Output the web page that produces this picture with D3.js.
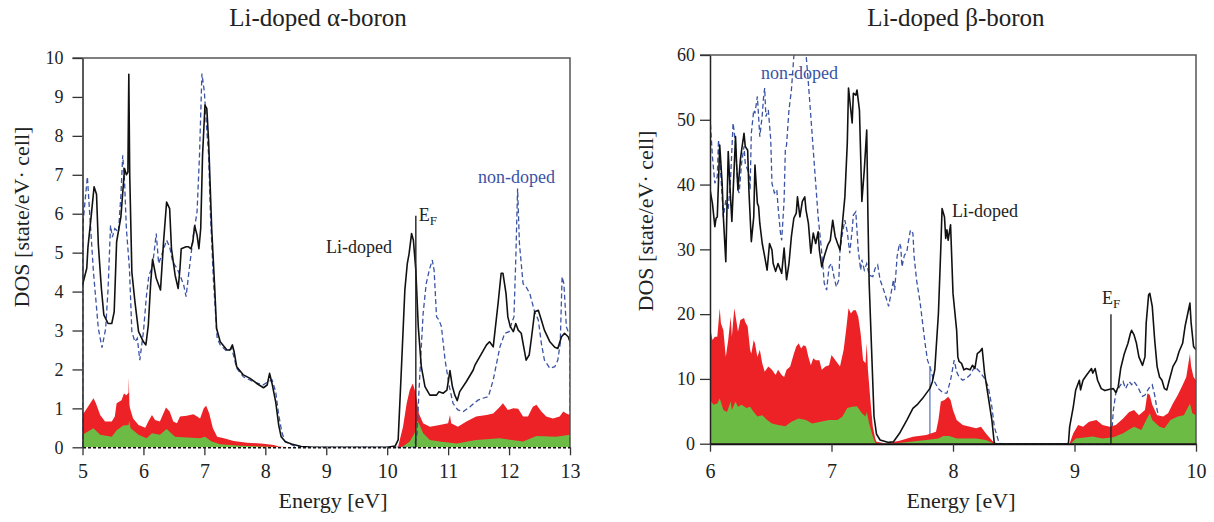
<!DOCTYPE html>
<html>
<head>
<meta charset="utf-8">
<script src="https://cdn.jsdelivr.net/npm/d3@7"></script>
<style>
  body { margin: 0; background: #fff; }
  svg { display: block; }
  text { font-family: "Liberation Serif", "Times New Roman", serif; fill: #222; }
</style>
</head>
<body>
<svg id="chart" width="1214" height="522"></svg>
<script>
// ---- Li-doped alpha-boron: [energy eV, DOS state/eV·cell] ----
const alphaLiDoped = [[5.00,4.17],[5.07,4.6],[5.09,5.15],[5.14,5.9],[5.19,6.69],[5.23,6.5],[5.26,5.2],[5.31,4.08],[5.35,3.4],[5.42,3.18],[5.48,3.18],[5.52,3.48],[5.56,5.28],[5.63,5.92],[5.69,7.16],[5.72,7.0],[5.745,7.07],[5.76,9.58],[5.775,7.0],[5.81,4.5],[5.86,3.74],[5.92,2.97],[6.0,2.71],[6.04,2.63],[6.08,3.14],[6.12,4.25],[6.15,4.83],[6.21,4.34],[6.28,4.04],[6.33,5.28],[6.38,6.3],[6.43,6.13],[6.46,5.1],[6.52,4.42],[6.57,4.08],[6.60,4.6],[6.62,5.1],[6.70,5.15],[6.74,5.15],[6.78,5.1],[6.81,5.28],[6.84,5.69],[6.88,5.45],[6.91,5.1],[6.94,5.62],[6.97,7.5],[7.01,8.79],[7.04,8.7],[7.07,7.85],[7.12,5.62],[7.17,4.08],[7.20,3.05],[7.26,2.71],[7.37,2.5],[7.42,2.5],[7.46,2.63],[7.49,2.44],[7.53,2.07],[7.64,1.86],[7.75,1.77],[7.86,1.64],[7.97,1.53],[8.03,1.6],[8.07,1.9],[8.11,1.64],[8.17,1.17],[8.22,0.57],[8.26,0.27],[8.33,0.14],[8.43,0.085],[8.59,0.02],[8.8,0.0],[10.0,0.0],[10.13,0.03],[10.18,0.19],[10.23,1.9],[10.29,4.04],[10.33,4.72],[10.36,4.98],[10.40,5.49],[10.43,5.32],[10.47,4.55],[10.51,3.1],[10.56,2.07],[10.62,1.56],[10.70,1.34],[10.81,1.34],[10.85,1.43],[10.92,1.39],[10.98,1.47],[11.03,1.97],[11.07,1.56],[11.11,1.34],[11.15,1.2],[11.19,1.43],[11.30,1.69],[11.41,1.98],[11.44,2.11],[11.52,2.33],[11.63,2.63],[11.68,2.71],[11.74,2.58],[11.82,3.7],[11.87,4.47],[11.90,4.47],[11.95,3.95],[11.98,3.35],[12.02,3.1],[12.07,2.97],[12.11,3.18],[12.15,3.01],[12.20,2.93],[12.24,2.58],[12.28,2.24],[12.33,2.37],[12.37,2.84],[12.42,3.48],[12.48,3.52],[12.53,3.27],[12.58,3.01],[12.67,2.71],[12.75,2.57],[12.80,2.54],[12.86,2.84],[12.91,2.93],[12.97,2.84],[13.0,2.71]];

const alphaNonDoped = [[5.0,0],[5.002,5.3],[5.01,5.8],[5.08,6.95],[5.12,5.96],[5.18,4.5],[5.26,3.05],[5.32,2.56],[5.38,3.05],[5.42,4.08],[5.46,5.7],[5.49,5.4],[5.53,5.62],[5.59,5.53],[5.63,6.47],[5.66,7.5],[5.69,6.82],[5.72,5.62],[5.77,4.6],[5.81,2.97],[5.86,2.71],[5.90,2.8],[5.94,2.24],[6.0,2.97],[6.05,3.9],[6.09,4.42],[6.14,4.6],[6.17,4.94],[6.21,5.49],[6.25,4.72],[6.30,4.94],[6.38,5.32],[6.43,5.15],[6.48,4.76],[6.55,4.6],[6.60,4.42],[6.66,4.17],[6.70,3.87],[6.74,4.42],[6.78,4.94],[6.82,5.45],[6.88,6.05],[6.92,7.5],[6.96,9.6],[7.0,9.13],[7.03,8.36],[7.07,7.5],[7.10,5.96],[7.15,4.25],[7.21,2.8],[7.26,2.63],[7.37,2.46],[7.45,2.54],[7.53,2.03],[7.64,1.81],[7.81,1.68],[7.96,1.6],[8.04,1.68],[8.11,1.73],[8.17,1.43],[8.22,0.83],[8.27,0.4],[8.32,0.15],[8.48,0.03],[8.7,0],[10.44,0],[10.45,0.03],[10.49,0.36],[10.52,1.39],[10.56,2.58],[10.59,3.44],[10.64,4.2],[10.69,4.55],[10.74,4.81],[10.77,4.55],[10.81,3.35],[10.85,3.27],[10.89,3.1],[10.95,2.24],[11.02,1.56],[11.08,1.13],[11.16,0.96],[11.25,0.92],[11.36,1.04],[11.44,1.15],[11.49,1.21],[11.57,1.26],[11.66,1.3],[11.74,1.73],[11.85,2.58],[11.93,2.93],[12.0,2.97],[12.04,3.18],[12.08,3.35],[12.11,4.81],[12.14,6.65],[12.17,5.24],[12.23,4.2],[12.28,4.12],[12.34,3.95],[12.42,3.48],[12.48,3.27],[12.53,2.67],[12.58,2.24],[12.67,2.03],[12.75,2.07],[12.80,2.24],[12.84,2.67],[12.87,4.38],[12.90,4.2],[12.94,3.1],[12.98,2.93],[12.998,2.9],[13.0,0]];

const alphaPdosTotal = [[5.0,0.83],[5.09,1.04],[5.18,1.26],[5.22,1.13],[5.29,0.83],[5.37,0.66],[5.48,0.66],[5.53,0.79],[5.56,1.13],[5.64,1.21],[5.68,1.38],[5.72,1.34],[5.755,1.4],[5.76,1.79],[5.77,1.1],[5.78,1.0],[5.83,0.74],[5.92,0.57],[6.03,0.5],[6.08,0.66],[6.14,0.83],[6.19,0.7],[6.27,0.66],[6.37,1.02],[6.43,0.92],[6.49,0.66],[6.55,0.62],[6.60,0.79],[6.71,0.81],[6.82,0.85],[6.88,0.79],[6.93,0.74],[6.99,1.0],[7.03,1.07],[7.08,0.87],[7.14,0.49],[7.21,0.27],[7.32,0.23],[7.48,0.16],[7.70,0.12],[7.97,0.09],[8.14,0.06],[8.22,0.02],[8.4,0],[10.15,0],[10.18,0.02],[10.26,0.53],[10.32,1.13],[10.37,1.47],[10.42,1.64],[10.47,1.39],[10.52,0.87],[10.59,0.62],[10.70,0.53],[10.86,0.57],[11.0,0.62],[11.03,0.83],[11.05,0.62],[11.16,0.53],[11.30,0.66],[11.46,0.79],[11.63,0.83],[11.74,0.87],[11.85,1.04],[11.90,1.13],[11.98,0.96],[12.07,1.0],[12.15,0.99],[12.23,0.79],[12.31,0.79],[12.39,1.04],[12.45,1.09],[12.53,0.92],[12.61,0.79],[12.72,0.74],[12.83,0.79],[12.89,0.92],[12.94,0.87],[13.0,0.83]];

const alphaPdosPart = [[5.0,0.32],[5.18,0.49],[5.29,0.32],[5.48,0.27],[5.56,0.44],[5.67,0.56],[5.755,0.57],[5.765,0.68],[5.79,0.49],[5.92,0.32],[6.05,0.23],[6.14,0.36],[6.27,0.32],[6.38,0.47],[6.52,0.27],[6.71,0.25],[6.93,0.23],[7.01,0.27],[7.12,0.15],[7.26,0.08],[7.59,0.04],[8.2,0.01],[8.3,0],[10.22,0],[10.26,0.03],[10.37,0.15],[10.45,0.36],[10.49,0.68],[10.52,0.62],[10.59,0.36],[10.70,0.19],[10.86,0.15],[11.14,0.1],[11.46,0.19],[11.85,0.23],[12.23,0.15],[12.45,0.29],[12.77,0.27],[13.0,0.32]];

const alphaFermi = 10.47;
const alphaXTicks = [5, 6, 7, 8, 9, 10, 11, 12, 13];
const alphaYTicks = [0, 1, 2, 3, 4, 5, 6, 7, 8, 9, 10];

// ---- Li-doped beta-boron ----
const betaLiDoped = [[6.0,39.2],[6.02,37.1],[6.04,33.5],[6.05,34.8],[6.06,35.0],[6.08,46.1],[6.10,40.2],[6.11,35.0],[6.13,28.1],[6.15,45.1],[6.17,37.6],[6.18,34.3],[6.21,47.4],[6.22,42.8],[6.23,39.2],[6.25,43.8],[6.26,45.3],[6.28,47.9],[6.29,45.9],[6.31,45.3],[6.32,39.2],[6.34,31.2],[6.36,35.0],[6.37,43.0],[6.39,37.1],[6.40,36.6],[6.41,34.0],[6.43,30.9],[6.45,28.9],[6.47,26.8],[6.49,30.9],[6.51,29.9],[6.52,27.8],[6.54,26.6],[6.56,27.8],[6.59,26.3],[6.61,30.2],[6.63,25.3],[6.65,27.8],[6.67,32.0],[6.69,34.8],[6.71,35.6],[6.72,38.1],[6.74,35.0],[6.76,37.4],[6.78,38.1],[6.79,36.1],[6.81,34.0],[6.83,29.4],[6.85,32.5],[6.87,30.9],[6.89,32.7],[6.90,29.9],[6.92,27.3],[6.94,28.9],[6.97,30.7],[6.99,31.4],[7.01,34.5],[7.03,32.0],[7.05,30.9],[7.07,29.9],[7.09,34.0],[7.11,38.1],[7.13,46.4],[7.14,54.9],[7.17,49.5],[7.18,54.1],[7.20,53.8],[7.21,54.6],[7.23,51.5],[7.25,37.4],[7.27,42.3],[7.29,48.4],[7.30,35.0],[7.31,24.8],[7.33,14.5],[7.35,4.2],[7.37,1.5],[7.40,0.57],[7.47,0.2],[7.51,0.3],[7.56,1.6],[7.62,3.65],[7.67,5.46],[7.71,6.12],[7.75,7.0],[7.78,7.77],[7.81,8.54],[7.83,9.57],[7.85,11.4],[7.88,20.1],[7.90,30.4],[7.91,36.3],[7.93,35.0],[7.94,31.7],[7.95,33.0],[7.96,31.4],[7.98,33.8],[8.0,23.2],[8.03,17.5],[8.04,13.4],[8.05,12.7],[8.07,12.4],[8.09,11.4],[8.11,11.6],[8.14,11.4],[8.16,12.1],[8.18,11.6],[8.20,13.9],[8.22,14.2],[8.24,14.7],[8.26,10.9],[8.29,7.26],[8.32,3.65],[8.34,0.05],[8.36,0],[8.94,0],[8.95,0.05],[8.96,2.6],[8.99,5.7],[9.01,8.3],[9.04,9.8],[9.05,8.3],[9.07,9.8],[9.10,10.6],[9.12,11.1],[9.14,11.6],[9.15,10.9],[9.17,11.6],[9.19,9.8],[9.22,8.5],[9.25,8.2],[9.29,8.4],[9.32,8.5],[9.34,7.9],[9.36,8.8],[9.38,11.6],[9.41,13.9],[9.44,15.5],[9.46,17.0],[9.47,17.5],[9.49,16.8],[9.51,15.5],[9.53,13.4],[9.56,12.1],[9.58,13.4],[9.59,18.6],[9.61,23.0],[9.62,23.2],[9.64,21.2],[9.66,16.0],[9.68,11.9],[9.70,10.3],[9.72,9.8],[9.74,8.5],[9.76,8.3],[9.78,9.8],[9.81,11.9],[9.84,12.9],[9.86,14.2],[9.89,15.5],[9.91,18.1],[9.93,19.9],[9.95,21.7],[9.96,18.6],[9.98,15.0],[10.0,14.5]];

const betaNonDoped = [[6.0,50.5],[6.02,44.3],[6.04,40.2],[6.06,41.2],[6.07,46.9],[6.09,41.2],[6.11,35.0],[6.13,37.6],[6.15,36.1],[6.17,41.2],[6.19,49.5],[6.21,46.4],[6.23,39.2],[6.24,38.7],[6.26,43.3],[6.28,45.9],[6.29,43.3],[6.32,41.7],[6.33,39.2],[6.34,47.9],[6.36,51.5],[6.37,51.0],[6.39,53.6],[6.40,50.5],[6.41,47.4],[6.43,50.7],[6.44,53.3],[6.45,54.9],[6.46,50.5],[6.48,51.5],[6.50,46.9],[6.51,40.2],[6.53,38.7],[6.55,39.2],[6.56,36.6],[6.58,32.5],[6.59,31.4],[6.61,37.6],[6.62,45.3],[6.63,46.1],[6.65,51.5],[6.67,54.6],[6.69,59.8],[6.72,61.5],[6.76,61.5],[6.79,60.2],[6.81,55.6],[6.83,50.5],[6.85,45.3],[6.87,40.2],[6.89,35.0],[6.91,31.4],[6.93,27.3],[6.94,24.8],[6.96,23.7],[6.98,27.3],[7.00,27.8],[7.02,25.8],[7.04,24.2],[7.06,25.3],[7.07,29.9],[7.09,32.5],[7.11,34.5],[7.13,32.7],[7.15,29.4],[7.17,33.0],[7.18,35.3],[7.20,35.8],[7.22,29.9],[7.24,26.8],[7.25,28.4],[7.27,26.8],[7.29,27.8],[7.31,26.0],[7.34,25.8],[7.36,27.1],[7.38,27.6],[7.40,25.3],[7.43,23.7],[7.47,21.2],[7.49,23.2],[7.51,25.3],[7.52,23.7],[7.54,28.9],[7.56,30.9],[7.57,30.4],[7.58,27.3],[7.60,29.1],[7.62,29.6],[7.63,30.9],[7.65,33.0],[7.67,32.5],[7.68,28.9],[7.70,25.3],[7.73,21.7],[7.75,18.6],[7.77,15.5],[7.79,12.9],[7.81,11.9],[7.84,9.8],[7.88,8.5],[7.92,7.8],[7.95,7.8],[7.98,9.8],[8.0,11.9],[8.01,12.9],[8.03,11.1],[8.05,10.3],[8.08,9.8],[8.11,10.1],[8.14,10.6],[8.18,11.9],[8.22,11.1],[8.26,10.1],[8.29,8.8],[8.32,5.7],[8.34,2.6],[8.38,0.05],[8.40,0],[9.30,0],[9.32,5.2],[9.34,7.8],[9.37,8.8],[9.40,9.6],[9.42,8.5],[9.45,9.6],[9.47,9.1],[9.49,9.6],[9.52,8.8],[9.54,8.0],[9.56,7.3],[9.58,7.5],[9.61,8.5],[9.64,9.1],[9.66,7.5],[9.68,5.2],[9.70,3.6],[9.75,3.2],[9.85,4.5],[10.0,6.0]];

const betaPdosTotal = [[6.0,18.1],[6.02,16.0],[6.04,16.5],[6.06,16.5],[6.08,20.9],[6.09,18.6],[6.11,17.5],[6.13,13.4],[6.15,16.0],[6.17,19.6],[6.18,16.5],[6.20,20.9],[6.22,18.6],[6.23,17.3],[6.25,19.1],[6.28,19.4],[6.29,18.8],[6.31,18.1],[6.33,14.5],[6.34,13.9],[6.36,16.0],[6.37,15.5],[6.39,13.4],[6.41,14.5],[6.43,12.4],[6.45,11.1],[6.48,11.9],[6.51,11.4],[6.54,10.6],[6.56,11.4],[6.59,10.6],[6.61,10.3],[6.63,11.4],[6.66,11.9],[6.69,13.9],[6.71,15.0],[6.73,15.5],[6.75,14.7],[6.77,15.2],[6.79,15.0],[6.81,13.4],[6.83,12.1],[6.85,13.2],[6.87,12.9],[6.90,12.9],[6.92,11.4],[6.95,11.9],[6.98,12.1],[7.00,13.7],[7.02,13.2],[7.05,12.4],[7.07,11.9],[7.10,14.5],[7.12,17.5],[7.14,20.9],[7.16,20.1],[7.18,20.6],[7.20,20.6],[7.22,19.6],[7.24,17.0],[7.26,12.9],[7.28,12.4],[7.29,15.5],[7.30,11.4],[7.32,6.7],[7.34,2.6],[7.36,0.8],[7.37,0.3],[7.45,0.05],[7.56,0.46],[7.67,1.08],[7.78,1.34],[7.86,1.85],[7.88,3.65],[7.90,6.5],[7.93,6.74],[7.96,7.26],[7.98,6.74],[8.0,5.2],[8.03,3.65],[8.08,2.88],[8.14,2.62],[8.19,2.37],[8.23,2.62],[8.27,1.6],[8.33,0.3],[8.36,0],[8.95,0],[8.96,0.05],[8.99,1.6],[9.03,2.88],[9.07,2.62],[9.12,3.4],[9.18,3.65],[9.23,2.88],[9.29,2.62],[9.34,2.88],[9.40,3.9],[9.45,4.9],[9.49,5.2],[9.53,4.4],[9.58,5.2],[9.60,7.77],[9.62,7.5],[9.64,6.0],[9.68,4.4],[9.73,4.2],[9.77,4.7],[9.81,6.2],[9.85,7.5],[9.89,9.06],[9.92,10.3],[9.95,13.9],[9.96,11.9],[9.98,10.3],[10.0,9.8]];

const betaPdosPart = [[6.0,6.7],[6.03,6.0],[6.06,6.2],[6.08,7.0],[6.11,5.2],[6.14,4.9],[6.17,6.5],[6.18,5.2],[6.21,6.5],[6.23,5.7],[6.26,6.0],[6.30,5.5],[6.33,5.7],[6.36,4.9],[6.39,4.2],[6.43,4.4],[6.47,3.65],[6.51,3.1],[6.56,2.9],[6.62,2.7],[6.67,3.4],[6.73,3.9],[6.79,3.65],[6.84,3.1],[6.91,3.4],[6.98,3.65],[7.05,3.65],[7.09,4.2],[7.13,5.5],[7.17,5.7],[7.21,5.8],[7.25,4.7],[7.28,4.2],[7.29,4.9],[7.31,3.1],[7.34,1.1],[7.36,0.15],[7.40,0],[7.51,0.05],[7.78,0.57],[7.88,0.8],[7.92,1.2],[7.97,1.2],[8.03,0.8],[8.19,0.8],[8.27,0.57],[8.34,0],[8.97,0],[9.01,0.8],[9.10,1.0],[9.15,1.1],[9.23,0.8],[9.32,1.0],[9.40,1.6],[9.45,2.2],[9.49,2.6],[9.55,2.1],[9.59,3.65],[9.62,4.7],[9.64,3.65],[9.70,2.6],[9.74,2.4],[9.79,3.65],[9.85,4.2],[9.90,4.4],[9.95,6.2],[9.97,4.7],[10.0,4.4]];

const betaFermi = 9.30;
const betaFermiNonDoped = 7.81;
const betaXTicks = [6, 7, 8, 9, 10];
const betaYTicks = [0, 10, 20, 30, 40, 50, 60];

const COLORS = { li: "#111", non: "#3a53a4", red: "#ec2227", green: "#6cbb45", frame: "#555" };
const SERIF = '"Liberation Serif", "Times New Roman", serif';

const svg = d3.select("#chart");

function panel(opt) {
  const x = d3.scaleLinear().domain(opt.xDomain).range([opt.left, opt.right]);
  const y = d3.scaleLinear().domain(opt.yDomain).range([opt.bottom, opt.top]);
  const g = svg.append("g");

  const clipId = "clip-" + opt.id;
  g.append("clipPath").attr("id", clipId)
    .append("rect")
    .attr("x", opt.left).attr("y", opt.top)
    .attr("width", opt.right - opt.left).attr("height", opt.bottom - opt.top);

  const plot = g.append("g").attr("clip-path", `url(#${clipId})`);
  const line = d3.line().x(d => x(d[0])).y(d => y(d[1]));
  const area = d3.area().x(d => x(d[0])).y0(y(0)).y1(d => y(d[1]));

  const drawNon = () => plot.append("path").datum(opt.non).attr("d", line)
    .attr("fill", "none").attr("stroke", COLORS.non).attr("stroke-width", 1.3)
    .attr("stroke-dasharray", "5,3");

  if (opt.nonBelow) drawNon();
  if (opt.fermiNon != null) {
    plot.append("line")
      .attr("x1", x(opt.fermiNon)).attr("x2", x(opt.fermiNon))
      .attr("y1", y(0)).attr("y2", y(opt.fermiNonTop))
      .attr("stroke", "#5b7cc4").attr("stroke-width", 1.3);
  }
  plot.append("path").datum(opt.red).attr("d", area).attr("fill", COLORS.red);
  plot.append("path").datum(opt.green).attr("d", area).attr("fill", COLORS.green);
  if (!opt.nonBelow) drawNon();
  plot.append("path").datum(opt.li).attr("d", line)
    .attr("fill", "none").attr("stroke", COLORS.li).attr("stroke-width", 1.6)
    .attr("stroke-linejoin", "round");

  // Fermi level of the doped crystal
  g.append("line")
    .attr("x1", x(opt.fermi)).attr("x2", x(opt.fermi))
    .attr("y1", y(0)).attr("y2", y(opt.fermiTop))
    .attr("stroke", "#222").attr("stroke-width", 1.4);
  const ef = g.append("text")
    .attr("x", x(opt.fermi) + opt.efDx).attr("y", y(opt.fermiTop) + opt.efDy)
    .attr("font-size", 18);
  ef.append("tspan").text("E");
  ef.append("tspan").attr("font-size", 13).attr("dy", 4).text("F");

  // frame
  g.append("path")
    .attr("d", `M${opt.left - opt.yTick},${opt.top}H${opt.right}V${opt.bottom}`)
    .attr("fill", "none").attr("stroke", COLORS.frame).attr("stroke-width", 1.5);

  // axes
  const yAxis = g.append("g").attr("transform", `translate(${opt.left},0)`)
    .call(d3.axisLeft(y).tickValues(opt.yTicks).tickSize(opt.yTick)
      .tickPadding(opt.yPad).tickSizeOuter(0).tickFormat(d3.format("d")));
  yAxis.attr("font-family", SERIF);
  yAxis.select(".domain").attr("stroke", "#222").attr("stroke-width", 1.5);
  yAxis.selectAll(".tick line").attr("stroke", "#333").attr("stroke-width", 1.3);
  yAxis.selectAll(".tick text").attr("font-size", opt.yFont).attr("fill", "#222");

  const xAxis = g.append("g").attr("transform", `translate(0,${opt.bottom})`)
    .call(d3.axisBottom(x).tickValues(opt.xTicks).tickSize(8)
      .tickPadding(opt.xPad).tickSizeOuter(0).tickFormat(d3.format("d")));
  xAxis.attr("font-family", SERIF);
  xAxis.select(".domain").attr("stroke", "#111").attr("stroke-width", opt.baseWidth)
    .attr("stroke-dasharray", opt.baseDash);
  xAxis.selectAll(".tick line").attr("stroke", "#333").attr("stroke-width", 1.3);
  xAxis.selectAll(".tick text").attr("font-size", 20).attr("fill", "#222");

  // titles
  g.append("text").attr("x", opt.titleX).attr("y", 26)
    .attr("text-anchor", "middle").attr("font-size", 25).text(opt.title);
  g.append("text").attr("x", opt.xLabelX).attr("y", 508)
    .attr("text-anchor", "middle").attr("font-size", 22).text("Energy [eV]");
  g.append("text")
    .attr("transform", `translate(${opt.yLabelX},${opt.yLabelY}) rotate(-90)`)
    .attr("text-anchor", "middle").attr("font-size", 22)
    .text("DOS [state/eV\u00b7 cell]");

  // series labels
  g.append("text").attr("x", opt.liLabel[0]).attr("y", opt.liLabel[1])
    .attr("font-size", 18).attr("fill", "#111").text("Li-doped");
  g.append("text").attr("x", opt.nonLabel[0]).attr("y", opt.nonLabel[1])
    .attr("font-size", 18).style("fill", COLORS.non).text("non-doped");
}

panel({
  id: "alpha", title: "Li-doped \u03b1-boron",
  xDomain: [5, 13], yDomain: [0, 10],
  left: 82.5, right: 570, top: 58, bottom: 447.3,
  xTicks: alphaXTicks, yTicks: alphaYTicks,
  li: alphaLiDoped, non: alphaNonDoped, red: alphaPdosTotal, green: alphaPdosPart,
  nonBelow: false,
  fermi: alphaFermi, fermiTop: 5.95, efDx: 3, efDy: 5,
  yTick: 10, yPad: 9, yFont: 18, xPad: 9,
  baseWidth: 1.6, baseDash: "3,2",
  titleX: 318, xLabelX: 333, yLabelX: 29, yLabelY: 217,
  liLabel: [326, 253], nonLabel: [478, 183]
});

panel({
  id: "beta", title: "Li-doped \u03b2-boron",
  xDomain: [6, 10], yDomain: [0, 60],
  left: 710, right: 1196, top: 55, bottom: 443.7,
  xTicks: betaXTicks, yTicks: betaYTicks,
  li: betaLiDoped, non: betaNonDoped, red: betaPdosTotal, green: betaPdosPart,
  nonBelow: true, fermiNon: betaFermiNonDoped, fermiNonTop: 12,
  fermi: betaFermi, fermiTop: 20, efDx: -9, efDy: -10,
  yTick: 10, yPad: 5, yFont: 18, xPad: 12,
  baseWidth: 2, baseDash: null,
  titleX: 956, xLabelX: 961, yLabelX: 653, yLabelY: 221,
  liLabel: [952, 217], nonLabel: [761, 79]
});
</script>
</body>
</html>
